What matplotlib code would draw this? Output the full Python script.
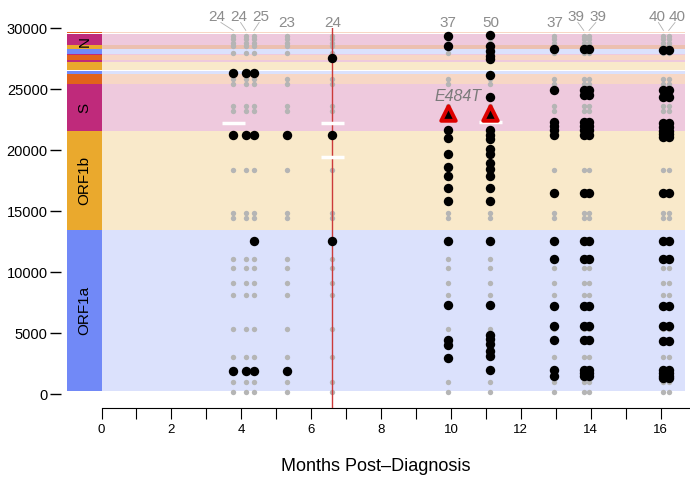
import matplotlib
matplotlib.use("Agg")
import matplotlib.pyplot as plt
from matplotlib.patches import Rectangle

plt.rcParams['font.family'] = ['Liberation Sans', 'DejaVu Sans']

# genome annotation (SARS-CoV-2 positions)
gene_names = ["ORF1a", "ORF1b", "S", "ORF3a", "E", "M", "ORF6", "ORF7a",
              "ORF7b", "ORF8", "N", "ORF9b", "ORF10"]
gene_starts = [266, 13468, 21563, 25393, 26245, 26523, 27202, 27394,
               27756, 27894, 28274, 28284, 29558]
gene_ends = [13468, 21555, 25384, 26220, 26472, 27191, 27387, 27759,
             27887, 28259, 29533, 28577, 29674]
gene_colors = ["#7189f7", "#eaa92d", "#bf2a7b", "#e1631b", "#7189f7", "#eaa92d",
               "#bf2a7b", "#e1631b", "#bf2a7b", "#7189f7", "#bf2a7b", "#eaa92d",
               "#e1631b"]
labelled_genes = ["ORF1a", "ORF1b", "S", "N"]

# sampling times (months post-diagnosis) and number of sites per sample
times = [3.77, 4.13, 4.36, 5.31, 6.60, 9.91, 11.12, 12.96, 13.80, 13.95, 16.08, 16.23]
counts = [24, 24, 25, 23, 24, 37, 50, 37, 39, 39, 40, 40]

# sites shown in grey for every sample
gray_sites = [29360, 29085, 28790, 28545, 27960, 25800, 25450, 23570, 23240,
              18386, 14866, 14420, 11054, 10300, 9080, 8086, 5377, 3025, 1030, 187]

# sites with a mutation (black) per sample
late_a = [28305, 24923, 22279, 21955, 21630, 21273, 16488, 12547, 11087,
          7218, 5596, 4436, 2003, 1460]
late_b = [28305, 24923, 24517, 22279, 21955, 21630, 21273, 16488, 12547,
          11087, 7218, 5596, 4436, 2003, 1730, 1460]
late_c = [28224, 24923, 24385, 22200, 21900, 21600, 21300, 21100, 16488,
          12547, 11087, 7218, 5596, 4380, 2000, 1750, 1460, 1300]
black_sites = [
    [26277, 21249, 1890],
    [26277, 21249, 1890],
    [26277, 21249, 12571, 1890],
    [21249, 1890],
    [27551, 21249, 12571],
    [29384, 28491, 21630, 21005, 19651, 18572, 17899, 16893, 15815,
     12547, 7299, 4436, 4055, 2944],
    [29450, 28491, 28100, 27680, 27450, 26140, 24331, 21630, 21273, 20925,
     20057, 19708, 18978, 18435, 17899, 16893, 15815, 12547, 7299, 4866,
     4517, 4112, 3568, 3163, 1946],
    late_a, late_b, late_b, late_c, late_c,
]

# E484T spike mutation
triangle_times = [9.91, 11.12]
triangle_sites = [23012, 23012]
triangle_label = "E484T"

# white marks
white_times = [3.77, 6.60, 6.60, 11.12]
white_sites = [22200, 22200, 19440, 22280]

treatment_time = 6.60

# label placement for the sample counts (crowded ones pulled apart)
count_label_x = [3.30, 3.93, 4.56, 5.31, 6.62, 9.92, 11.14, 12.98, 13.58, 14.21, 15.89, 16.47]

fig = plt.figure(figsize=(6.9, 4.8), dpi=100)
ax = fig.add_axes([61 / 690, 72 / 480, 629 / 690, 380 / 480])
ax.set_xlim(-1.159, 16.84)
ax.set_ylim(-1135, 29676)

band_right = 16.70
for name, s, e, c in zip(gene_names, gene_starts, gene_ends, gene_colors):
    ax.add_patch(Rectangle((0, s), band_right, e - s, facecolor=c, alpha=0.25,
                           lw=0, zorder=1))
    ax.add_patch(Rectangle((-0.987, s), 0.987, e - s, facecolor=c, lw=0, zorder=2))
    if name in labelled_genes:
        ax.text(-0.49, (s + e) / 2, name, rotation=90, ha='center', va='center',
                fontsize=11, color='black', zorder=3)

for t, sites in zip(times, black_sites):
    ax.scatter([t] * len(gray_sites), gray_sites, s=15, c='#b5b5b5', lw=0, zorder=3)

ax.axvline(treatment_time, color='#cc3a3a', lw=1.0, zorder=4)

for t, sites in zip(times, black_sites):
    ax.scatter([t] * len(sites), sites, s=46, c='black', lw=0, zorder=5)

for t, y in zip(white_times, white_sites):
    ax.plot([t - 0.33, t + 0.33], [y, y], color='white', lw=2.5,
            solid_capstyle='butt', zorder=6)

ax.scatter(triangle_times, triangle_sites, marker='^', s=110, facecolor='black',
           edgecolor='#dd0000', linewidth=2.8, zorder=7)
ax.text(10.19, 24400, triangle_label, style='italic', color='#7a7a7a',
        fontsize=11.5, ha='center', va='center', zorder=8)

# counts above each sample
for t, n, lx in zip(times, counts, count_label_x):
    if abs(lx - t) > 0.1:
        ax.text(lx, 30890, str(n), color='#8c8c8c', fontsize=11, ha='center',
                va='center', clip_on=False)
        ax.plot([lx + (t - lx) * 0.25, t], [30450, 29800], color='#b0b0b0',
                lw=0.6, clip_on=False)
    else:
        ax.text(lx, 30450, str(n), color='#8c8c8c', fontsize=11, ha='center',
                va='center', clip_on=False)

# axes styling
for side in ['top', 'right', 'left']:
    ax.spines[side].set_visible(False)
ax.spines['bottom'].set_bounds(0, 16.84)
ax.spines['bottom'].set_linewidth(0.8)

ax.set_yticks(range(0, 30001, 5000))
ax.tick_params(axis='y', length=8, width=1, pad=1.5, labelsize=10.5)
ax.set_xticks(range(0, 17))
ax.set_xticklabels([str(i) if i % 2 == 0 else '' for i in range(0, 17)])
ax.tick_params(axis='x', length=8, width=0.8, pad=3.5, labelsize=9.5)
ax.set_xlabel("Months Post\u2013Diagnosis", fontsize=13, labelpad=16)

fig.savefig("out.png", dpi=100)
